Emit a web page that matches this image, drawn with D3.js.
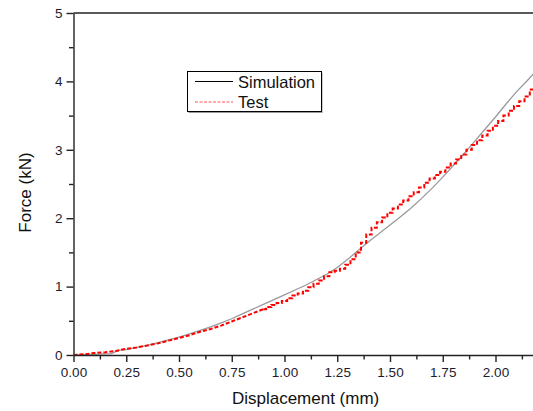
<!DOCTYPE html>
<html>
<head>
<meta charset="utf-8">
<script src="https://cdn.jsdelivr.net/npm/d3@7"></script>
<style>
  html, body { margin: 0; padding: 0; background: #fff; overflow: hidden; }
  svg { display: block; font-family: "Liberation Sans", Arial, sans-serif; }
</style>
</head>
<body>
<div id="chart"></div>
<script>
// Simulation curve (displacement mm, force kN)
const simDisp = [0.00, 0.05, 0.10, 0.15, 0.18, 0.20, 0.22, 0.25, 0.30, 0.35, 0.40, 0.45, 0.50, 0.55, 0.60,
  0.65, 0.70, 0.75, 0.80, 0.85, 0.90, 0.95, 1.00, 1.05, 1.10, 1.15, 1.20, 1.25, 1.30, 1.35, 1.40,
  1.45, 1.50, 1.55, 1.60, 1.65, 1.70, 1.75, 1.80, 1.85, 1.90, 1.95, 2.00, 2.05, 2.10, 2.15, 2.20];
const simForce = [0.00, 0.005, 0.01, 0.015, 0.02, 0.05, 0.07, 0.08, 0.11, 0.14, 0.18, 0.22, 0.26, 0.31, 0.36,
  0.41, 0.47, 0.53, 0.60, 0.67, 0.74, 0.81, 0.88, 0.95, 1.02, 1.10, 1.18, 1.28, 1.40, 1.53, 1.66,
  1.78, 1.90, 2.02, 2.15, 2.29, 2.44, 2.60, 2.77, 2.94, 3.12, 3.30, 3.48, 3.67, 3.85, 4.01, 4.18];

// Test curve (stepped measurement)
const testDisp = [0.00, 0.05, 0.10, 0.15, 0.20, 0.25, 0.30, 0.35, 0.40, 0.45, 0.50, 0.55, 0.60, 0.65,
  0.70, 0.75, 0.80, 0.85, 0.900, 0.925, 0.950, 0.975, 1.000, 1.025, 1.050, 1.075, 1.100, 1.125,
  1.150, 1.175, 1.200, 1.225, 1.250, 1.275, 1.300, 1.325, 1.350, 1.375, 1.400, 1.425, 1.450, 1.475,
  1.500, 1.525, 1.550, 1.575, 1.600, 1.625, 1.650, 1.675, 1.700, 1.725, 1.750, 1.775, 1.800, 1.825,
  1.850, 1.875, 1.900, 1.925, 1.950, 1.975, 2.000, 2.025, 2.050, 2.075, 2.100, 2.125, 2.150, 2.175, 2.200];
const testForce = [0.00, 0.01, 0.03, 0.04, 0.06, 0.09, 0.11, 0.14, 0.17, 0.21, 0.25, 0.29, 0.34, 0.38,
  0.43, 0.49, 0.55, 0.61, 0.67, 0.70, 0.73, 0.76, 0.79, 0.83, 0.87, 0.90, 0.94, 0.99,
  1.04, 1.09, 1.15, 1.21, 1.23, 1.26, 1.32, 1.40, 1.50, 1.64, 1.76, 1.86, 1.94, 2.01,
  2.08, 2.14, 2.20, 2.26, 2.32, 2.38, 2.45, 2.52, 2.58, 2.63, 2.68, 2.74, 2.80, 2.86,
  2.93, 3.00, 3.07, 3.14, 3.21, 3.28, 3.35, 3.42, 3.50, 3.57, 3.64, 3.71, 3.78, 3.88, 3.96];

const xMajor = [0, 0.25, 0.5, 0.75, 1.0, 1.25, 1.5, 1.75, 2.0];
const xMinor = [0.125, 0.375, 0.625, 0.875, 1.125, 1.375, 1.625, 1.875, 2.125];
const yMajor = [0, 1, 2, 3, 4, 5];
const yMinor = [0.5, 1.5, 2.5, 3.5, 4.5];
const seriesNames = ["Simulation", "Test"];

const W = 533, H = 411;
const svg = d3.select("#chart").append("svg").attr("width", W).attr("height", H);

const x = d3.scaleLinear().domain([0, 2.2]).range([73.5, 537.7]);
const y = d3.scaleLinear().domain([0, 5]).range([355, 13]);

const sim = simDisp.map((d, i) => [d, simForce[i]]);
const test = testDisp.map((d, i) => [d, testForce[i]]);

svg.append("defs").append("clipPath").attr("id", "clip")
  .append("rect").attr("x", x(0)).attr("y", y(5)).attr("width", x(2.2) - x(0)).attr("height", y(0) - y(5));

const plot = svg.append("g").attr("clip-path", "url(#clip)");

plot.append("path")
  .datum(sim)
  .attr("fill", "none")
  .attr("stroke", "#9a9a9a")
  .attr("stroke-width", 1.3)
  .attr("d", d3.line().x(d => x(d[0])).y(d => y(d[1])));

// smooth part of the test record, then the stepped part
const split = testDisp.indexOf(0.900);
plot.append("path")
  .datum(test.slice(0, split + 1))
  .attr("fill", "none")
  .attr("stroke", "#ff0000")
  .attr("stroke-width", 2)
  .attr("stroke-dasharray", "4,2")
  .attr("d", d3.line().x(d => x(d[0])).y(d => y(d[1])));
plot.append("path")
  .datum(test.slice(split))
  .attr("fill", "none")
  .attr("stroke", "#ff0000")
  .attr("stroke-width", 2)
  .attr("stroke-dasharray", "4,2")
  .attr("d", d3.line().curve(d3.curveStep).x(d => x(d[0])).y(d => y(d[1])));

// axes
const axisColor = "#222";
svg.append("g").attr("transform", `translate(0,${y(0)})`)
  .call(d3.axisBottom(x).tickValues(xMajor).tickSize(7).tickSizeOuter(0).tickPadding(5)
    .tickFormat(d3.format(".2f")));
svg.append("g").attr("transform", `translate(0,${y(0)})`)
  .call(d3.axisBottom(x).tickValues(xMinor).tickSize(4.5).tickSizeOuter(0).tickFormat(""))
  .select(".domain").remove();

svg.append("g").attr("transform", `translate(${x(0)},0)`)
  .call(d3.axisLeft(y).tickValues(yMajor).tickSize(7).tickSizeOuter(0).tickPadding(4)
    .tickFormat(d3.format("d")));
svg.append("g").attr("transform", `translate(${x(0)},0)`)
  .call(d3.axisLeft(y).tickValues(yMinor).tickSize(4.5).tickSizeOuter(0).tickFormat(""))
  .select(".domain").remove();

svg.selectAll(".domain, .tick line").attr("stroke", axisColor).attr("stroke-width", 1.4);
svg.selectAll(".tick text").attr("fill", "#1c1c2e").style("font-size", "13.5px")
  .style("font-family", "'Liberation Sans', Arial, sans-serif");

// top frame line
svg.append("line")
  .attr("x1", x(0)).attr("x2", x(2.2)).attr("y1", y(5)).attr("y2", y(5))
  .attr("stroke", axisColor).attr("stroke-width", 1.4);

// axis titles
svg.append("text")
  .attr("x", (x(0) + x(2.2)) / 2).attr("y", 404)
  .attr("text-anchor", "middle").style("font-size", "17px").attr("fill", "#111")
  .text("Displacement (mm)");

svg.append("text")
  .attr("transform", "translate(31,192.5) rotate(-90)")
  .attr("text-anchor", "middle").style("font-size", "17px").attr("fill", "#111")
  .text("Force (kN)");

// legend
const lg = svg.append("g");
lg.append("rect").attr("x", 188.5).attr("y", 73).attr("width", 134).attr("height", 40)
  .attr("fill", "#999");
lg.append("rect").attr("x", 187.5).attr("y", 71.5).attr("width", 134).attr("height", 40)
  .attr("fill", "#fff").attr("stroke", "#000").attr("stroke-width", 1);

lg.append("line").attr("x1", 195).attr("x2", 233).attr("y1", 81.5).attr("y2", 81.5)
  .attr("stroke", "#000").attr("stroke-width", 1);
lg.append("line").attr("x1", 195).attr("x2", 233).attr("y1", 102).attr("y2", 102)
  .attr("stroke", "#ff5555").attr("stroke-width", 1).attr("stroke-dasharray", "3,1.5");

lg.selectAll("text.leg").data(seriesNames).enter().append("text")
  .attr("class", "leg")
  .attr("x", 238).attr("y", (d, i) => 87.5 + i * 20.5)
  .style("font-size", "16.5px").attr("fill", "#111")
  .text(d => d);
</script>
</body>
</html>
